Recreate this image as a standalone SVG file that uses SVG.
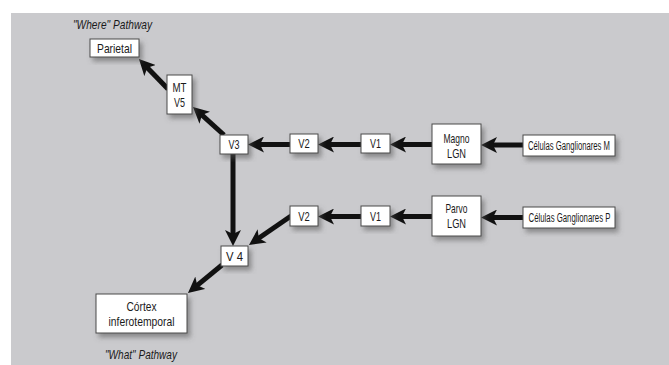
<svg xmlns="http://www.w3.org/2000/svg" width="669" height="365" viewBox="0 0 669 365">
<style>
.box{fill:#fff;stroke:#4a4a4a;stroke-width:1}
.t{font-family:"Liberation Sans Narrow","Liberation Sans",Arial,sans-serif;font-size:13.5px;fill:#1a1a1a;text-anchor:middle;dominant-baseline:central}
.w{font-family:"Liberation Sans",Arial,sans-serif;font-size:13.5px;fill:#1a1a1a;text-anchor:middle;dominant-baseline:central}
.it{font-style:italic}
.c{fill:none;stroke:#111;stroke-width:5}
</style>
<defs>
<filter id="sh" x="-20%" y="-20%" width="150%" height="160%">
<feDropShadow dx="3" dy="4" stdDeviation="2.5" flood-color="#555" flood-opacity="0.55"/>
</filter>
<marker id="ah" viewBox="0 0 16 16" refX="6" refY="8" markerWidth="16" markerHeight="16" markerUnits="userSpaceOnUse" orient="auto">
<path d="M0,0 L16,8 L0,16 L4,8 Z" fill="#111"/>
</marker>
</defs>
<rect x="0" y="0" width="669" height="365" fill="#fff"/>
<rect x="11" y="13" width="658" height="352" fill="#cacacd"/>

<g id="connectors">
<line class="c" x1="523" y1="145" x2="491" y2="145" marker-end="url(#ah)"/>
<line class="c" x1="432" y1="144.5" x2="400" y2="144.5" marker-end="url(#ah)"/>
<line class="c" x1="361" y1="144.5" x2="328" y2="144.5" marker-end="url(#ah)"/>
<line class="c" x1="290" y1="144.5" x2="258" y2="144.5" marker-end="url(#ah)"/>
<line class="c" x1="224" y1="135" x2="200.4" y2="113.7" marker-end="url(#ah)"/>
<line class="c" x1="168" y1="89" x2="145.9" y2="66.2" marker-end="url(#ah)"/>
<line class="c" x1="233" y1="154" x2="233" y2="236" marker-end="url(#ah)"/>
<line class="c" x1="523" y1="217.5" x2="491" y2="217.5" marker-end="url(#ah)"/>
<line class="c" x1="432" y1="216.5" x2="400" y2="216.5" marker-end="url(#ah)"/>
<line class="c" x1="361" y1="216.5" x2="328" y2="216.5" marker-end="url(#ah)"/>
<line class="c" x1="291" y1="216" x2="257.2" y2="239.3" marker-end="url(#ah)"/>
<line class="c" x1="222" y1="265" x2="195.7" y2="286.6" marker-end="url(#ah)"/>
</g>

<text class="t it" x="112.5" y="24.5" textLength="79" lengthAdjust="spacingAndGlyphs">"Where" Pathway</text>
<text class="t it" x="141" y="354" textLength="72" lengthAdjust="spacingAndGlyphs">"What" Pathway</text>

<g id="parietal">
<rect class="box" x="90" y="39" width="49" height="18" filter="url(#sh)"/>
<text class="t" x="114.5" y="48" textLength="35" lengthAdjust="spacingAndGlyphs">Parietal</text>
</g>
<g id="mtv5">
<rect class="box" x="167" y="75" width="25" height="39" filter="url(#sh)"/>
<text class="t" x="179.5" y="87.5" textLength="14" lengthAdjust="spacingAndGlyphs">MT</text>
<text class="t" x="179.5" y="102" textLength="11" lengthAdjust="spacingAndGlyphs">V5</text>
</g>
<g id="v3">
<rect class="box" x="220" y="135" width="28" height="19" filter="url(#sh)"/>
<text class="t" x="234" y="144.5" textLength="11" lengthAdjust="spacingAndGlyphs">V3</text>
</g>
<g id="v2m">
<rect class="box" x="290" y="134" width="28" height="19" filter="url(#sh)"/>
<text class="t" x="304" y="143.5" textLength="11.5" lengthAdjust="spacingAndGlyphs">V2</text>
</g>
<g id="v1m">
<rect class="box" x="361" y="134" width="29" height="19" filter="url(#sh)"/>
<text class="t" x="375.5" y="143.5" textLength="11" lengthAdjust="spacingAndGlyphs">V1</text>
</g>
<g id="magno">
<rect class="box" x="432" y="124" width="49" height="40" filter="url(#sh)"/>
<text class="t" x="456.5" y="138" textLength="26" lengthAdjust="spacingAndGlyphs">Magno</text>
<text class="t" x="456.5" y="153" textLength="19" lengthAdjust="spacingAndGlyphs">LGN</text>
</g>
<g id="celm">
<rect class="box" x="523" y="135" width="92" height="21" filter="url(#sh)"/>
<text class="w" transform="translate(569 145.5) scale(0.57 1)" x="0" y="0">Células Ganglionares  M</text>
</g>
<g id="v2p">
<rect class="box" x="290" y="206" width="28" height="20" filter="url(#sh)"/>
<text class="t" x="304" y="216" textLength="11.5" lengthAdjust="spacingAndGlyphs">V2</text>
</g>
<g id="v1p">
<rect class="box" x="361" y="206" width="29" height="20" filter="url(#sh)"/>
<text class="t" x="375.5" y="216" textLength="11" lengthAdjust="spacingAndGlyphs">V1</text>
</g>
<g id="parvo">
<rect class="box" x="432" y="196" width="49" height="40" filter="url(#sh)"/>
<text class="t" x="456.5" y="208" textLength="22" lengthAdjust="spacingAndGlyphs">Parvo</text>
<text class="t" x="456.5" y="223" textLength="19" lengthAdjust="spacingAndGlyphs">LGN</text>
</g>
<g id="celp">
<rect class="box" x="523" y="207" width="92" height="21" filter="url(#sh)"/>
<text class="w" transform="translate(569.5 217.5) scale(0.577 1)" x="0" y="0">Células Ganglionares  P</text>
</g>
<g id="v4">
<rect class="box" x="221" y="246" width="27" height="20" filter="url(#sh)"/>
<text class="t" x="234.5" y="256" textLength="17" lengthAdjust="spacingAndGlyphs">V 4</text>
</g>
<g id="cortex">
<rect class="box" x="96" y="294" width="91" height="39" filter="url(#sh)"/>
<text class="t" x="141.5" y="306.5" textLength="30" lengthAdjust="spacingAndGlyphs">Córtex</text>
<text class="t" x="141.5" y="321.5" textLength="66" lengthAdjust="spacingAndGlyphs">inferotemporal</text>
</g>
</svg>
